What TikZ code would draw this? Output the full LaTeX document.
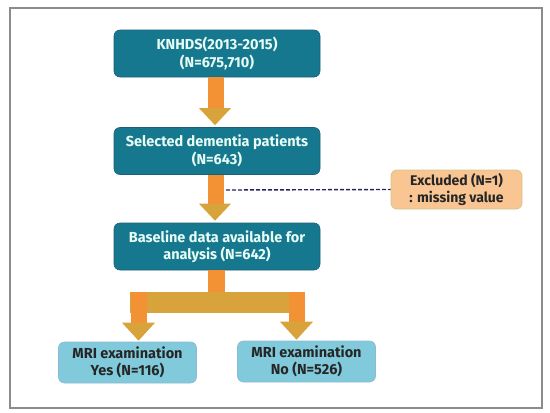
\documentclass[tikz,border=0pt]{standalone}
\usepackage{fontspec}
\setmainfont{Fira Sans}
\usetikzlibrary{calc}
\definecolor{darkbox}{HTML}{15788F}
\definecolor{darkedge}{HTML}{1C5E78}
\definecolor{lighttext}{HTML}{E8FCF6}
\definecolor{lightbox}{HTML}{80CADB}
\definecolor{lightedge}{HTML}{8FB7D6}
\definecolor{exbox}{HTML}{F8C593}
\definecolor{exedge}{HTML}{D0C88A}
\definecolor{shaftc}{HTML}{F39234}
\definecolor{headc}{HTML}{D9A33C}
\definecolor{dashc}{HTML}{23235E}
\definecolor{framec}{HTML}{8C8C8C}
\tikzset{
  mainbox/.style={draw=darkedge, line width=0.6pt, fill=darkbox, rounded corners=6pt,
    minimum width=206pt, minimum height=47pt, align=center, text=lighttext,
    font=\fontsize{14.5}{17.5}\selectfont\bfseries, inner sep=0pt},
  leafbox/.style={draw=lightedge, line width=0.6pt, fill=lightbox, rounded corners=6pt,
    minimum width=138pt, minimum height=41pt, align=center, text=black!85,
    font=\fontsize{14.5}{17.5}\selectfont\bfseries, inner sep=0pt},
  exclbox/.style={draw=exedge, line width=0.8pt, fill=exbox, rounded corners=6pt,
    minimum width=131pt, minimum height=39pt, align=center, text=black!85,
    font=\fontsize{14}{16.5}\selectfont\bfseries, inner sep=0pt},
}
\newcommand\fatarrow[2]{%
  \fill[shaftc] ($(#1.south)+(-9,0)$) rectangle ($(#2.north)+(7,-19)$);
  \fill[headc] ($(#2.north)+(-18,-19)$) -- ($(#2.north)+(14,-19)$) -- ($(#2.north)+(-2,-2)$) -- cycle;
}
\begin{document}
\begin{tikzpicture}[x=1pt,y=-1pt]
\useasboundingbox (0,0) rectangle (550,413);
\draw[framec, line width=1.6pt] (10,8) rectangle (542,408);

\node[mainbox] (b1) at (217,53.5) {KNHDS(2013-2015)\\(N=675,710)};
\node[mainbox] (b2) at (217,151) {Selected dementia patients\\(N=643)};
\node[mainbox] (b3) at (217,246.5) {Baseline data available for\\analysis (N=642)};
\node[exclbox] (ex) at (456.5,189.5) {Excluded (N=1)\\: missing value};
\node[leafbox] (b4) at (127.5,362.5) {MRI examination\\Yes (N=116)};
\node[leafbox] (b5) at (306.5,361.5) {MRI examination\\No (N=526)};

\fatarrow{b1}{b2}
\fatarrow{b2}{b3}

\coordinate (dl) at (226,190);
\draw[dashc, line width=1.4pt, dash pattern=on 4pt off 2pt] (dl) -- (ex.west);

% split
\coordinate (barL) at (130,292);
\coordinate (barR) at (305,313);
\coordinate (tipL) at ($(b4.north)+(11,-1)$);
\coordinate (tipR) at ($(b5.north)+(-10,-1)$);
\fill[shaftc] ($(b3.south)+(-9,0)$) rectangle (225,292);
\fill[headc] (barL) rectangle (barR);
\fill[shaftc] (131,292) rectangle (147,323);
\fill[shaftc] (289,292) rectangle (305,323);
\fill[headc] ($(tipL)+(-16.5,-18)$) -- ($(tipL)+(16.5,-18)$) -- (tipL) -- cycle;
\fill[headc] ($(tipR)+(-16.5,-18)$) -- ($(tipR)+(16.5,-18)$) -- (tipR) -- cycle;
\end{tikzpicture}
\end{document}
